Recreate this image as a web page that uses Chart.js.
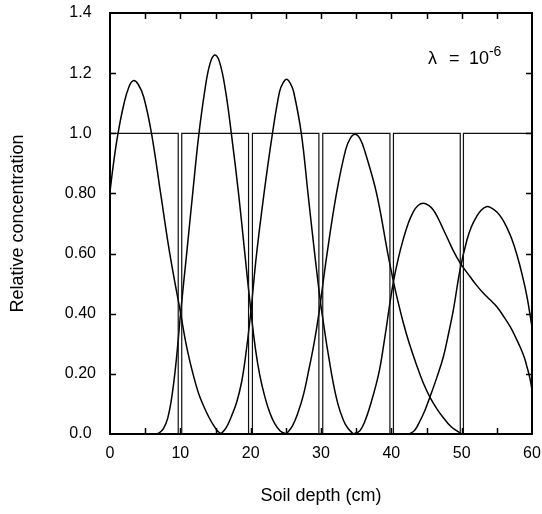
<!DOCTYPE html>
<html><head><meta charset="utf-8">
<script src="https://cdn.jsdelivr.net/npm/chart.js@4.4.0/dist/chart.umd.min.js"></script>
<style>html,body{margin:0;padding:0;background:#fff;}canvas{display:block;}</style>
</head><body>
<canvas id="c" width="542" height="514"></canvas>
<script>
// ---- data ----
const depth1 = [0, 0.5, 1.14, 2, 2.7, 3.3, 4, 4.8, 5.9, 7.2, 8.5, 10.05, 10.9, 11.8, 12.6, 13.4, 14.1, 14.8, 15.3, 15.8];
const conc1  = [0.806, 0.9, 1.0, 1.1, 1.155, 1.175, 1.163, 1.12, 1.0, 0.8, 0.6, 0.4, 0.29, 0.2, 0.135, 0.088, 0.054, 0.026, 0.01, 0];

const depth2 = [6.35, 7.0, 7.6, 8.2, 8.8, 9.4, 10.05, 10.9, 11.8, 12.6, 13.5, 14.2, 14.9, 15.6, 16.4, 17.25, 18.3, 19.15, 20.05, 20.7, 21.3, 22.0, 22.7, 23.4, 24.2, 25.07];
const conc2  = [0, 0.004, 0.018, 0.052, 0.125, 0.24, 0.405, 0.6, 0.81, 0.99, 1.145, 1.23, 1.26, 1.235, 1.145, 1.0, 0.795, 0.605, 0.405, 0.28, 0.195, 0.125, 0.072, 0.035, 0.01, 0];

const depth3 = [15.75, 16.5, 17.25, 18.0, 18.67, 19.2, 20.0, 20.8, 21.9, 23.1, 24.1, 24.6, 25.1, 25.6, 26.1, 27.2, 28.15, 29.1, 30.15, 31.5, 32.4, 33.2, 33.8, 34.6];
const conc3  = [0, 0.02, 0.058, 0.105, 0.168, 0.245, 0.4, 0.59, 0.8, 1.0, 1.138, 1.168, 1.18, 1.168, 1.139, 1.0, 0.8, 0.6, 0.4, 0.2, 0.1, 0.045, 0.02, 0];

const depth4 = [25.07, 25.9, 26.7, 27.5, 28.15, 29.0, 29.67, 30.8, 32.2, 33.5, 34.2, 34.88, 35.6, 36.3, 37.9, 39.5, 40.3, 41.0, 41.7, 42.5, 43.5, 44.5, 45.5, 46.5, 47.4, 48.5, 50.0];
const conc4  = [0, 0.025, 0.069, 0.13, 0.2, 0.3, 0.395, 0.59, 0.8, 0.945, 0.985, 0.997, 0.98, 0.935, 0.8, 0.6, 0.507, 0.435, 0.37, 0.305, 0.235, 0.172, 0.122, 0.083, 0.054, 0.024, 0];

const depth5 = [34.6, 35.5, 36.2, 37.0, 38.2, 39.0, 39.8, 40.3, 41.0, 41.7, 42.4, 43.1, 43.8, 44.55, 45.3, 45.97, 46.7, 47.4, 48.1, 48.8, 49.8, 50.5, 51.2, 52.1, 53.1, 54.0, 55.0, 56.0, 56.9, 57.6, 58.3, 58.9, 59.3, 59.7, 60.0];
const conc5  = [0, 0.01, 0.04, 0.095, 0.2, 0.31, 0.435, 0.507, 0.585, 0.648, 0.7, 0.738, 0.76, 0.767, 0.76, 0.745, 0.715, 0.68, 0.645, 0.61, 0.568, 0.545, 0.523, 0.495, 0.468, 0.447, 0.423, 0.39, 0.357, 0.325, 0.29, 0.255, 0.222, 0.186, 0.146];

const depth6 = [42.5, 43.3, 44.0, 44.8, 45.5, 46.5, 47.4, 48.1, 48.8, 49.8, 50.75, 51.4, 52.1, 52.8, 53.5, 54.2, 55.0, 55.7, 56.4, 57.1, 57.8, 58.6, 59.3, 60.0];
const conc6  = [0, 0.012, 0.04, 0.08, 0.124, 0.19, 0.257, 0.33, 0.41, 0.55, 0.645, 0.69, 0.722, 0.745, 0.756, 0.752, 0.738, 0.718, 0.688, 0.65, 0.6, 0.53, 0.455, 0.355];

// initial pulses (square waves)
const pulseStart = [0, 10.2, 20.25, 30.25, 40.3, 50.25];
const pulseEnd   = [9.7, 19.7, 29.7, 39.8, 49.8, 60];
const pulseLevel = 1.0;

// axes
const xTickValues = [0, 10, 20, 30, 40, 50, 60];
const xTickMarks  = [5, 10, 15, 20, 25, 30, 35, 40, 45, 50, 55];
const yTickValues = [0, 0.2, 0.4, 0.6, 0.8, 1.0, 1.2, 1.4];
const yTickLabels = ['0.0', '0.20', '0.40', '0.60', '0.80', '1.0', '1.2', '1.4'];
const yTickMarks  = [0.2, 0.4, 0.6, 0.8, 1.0, 1.2];
const xTitle = 'Soil depth (cm)';
const yTitle = 'Relative concentration';
const noteMain = '10';
const noteExp = '-6';
const notePos = {x: 45.2, y: 1.232};

// ---- build datasets ----
const curves = [[depth1, conc1], [depth2, conc2], [depth3, conc3], [depth4, conc4], [depth5, conc5], [depth6, conc6]];
const datasets = [];
pulseStart.forEach((s, i) => {
  datasets.push({
    data: [{x: s, y: 0}, {x: s, y: pulseLevel}, {x: pulseEnd[i], y: pulseLevel}, {x: pulseEnd[i], y: 0}],
    borderColor: '#111', borderWidth: 1.2, pointRadius: 0, tension: 0, fill: false
  });
});
curves.forEach(([xs, ys]) => {
  datasets.push({
    data: xs.map((v, i) => ({x: v, y: ys[i]})),
    borderColor: '#000', borderWidth: 1.5, pointRadius: 0, fill: false,
    tension: 0.4
  });
});

const FONT = '"Liberation Sans", Arial, sans-serif';

const framePlugin = {
  id: 'frame',
  beforeDraw(chart) {
    const ctx = chart.ctx;
    ctx.save(); ctx.fillStyle = '#fff'; ctx.fillRect(0, 0, chart.width, chart.height); ctx.restore();
  },
  afterDraw(chart) {
    const {ctx, chartArea: a, scales: {x, y}} = chart;
    ctx.save();
    ctx.strokeStyle = '#000';
    ctx.lineWidth = 2;
    ctx.strokeRect(a.left, a.top, a.right - a.left, a.bottom - a.top);
    ctx.lineWidth = 1.5;
    ctx.beginPath();
    xTickMarks.forEach(v => {
      const p = Math.round(x.getPixelForValue(v)) + 0.5;
      ctx.moveTo(p, a.bottom); ctx.lineTo(p, a.bottom - 6);
      ctx.moveTo(p, a.top); ctx.lineTo(p, a.top + 6);
    });
    yTickMarks.forEach(v => {
      const p = Math.round(y.getPixelForValue(v)) + 0.5;
      ctx.moveTo(a.left, p); ctx.lineTo(a.left + 6, p);
      ctx.moveTo(a.right, p); ctx.lineTo(a.right - 6, p);
    });
    ctx.stroke();
    // annotation
    const bx = x.getPixelForValue(notePos.x), by = y.getPixelForValue(notePos.y);
    ctx.fillStyle = '#000';
    ctx.textBaseline = 'alphabetic';
    ctx.textAlign = 'left';
    ctx.font = '18px ' + FONT;
    ctx.fillText('λ', bx, by);
    ctx.fillText('=', bx + 21, by);
    ctx.fillText(noteMain, bx + 41, by);
    ctx.font = '14px ' + FONT;
    ctx.fillText(noteExp, bx + 61, by - 8);
    ctx.restore();
  }
};

new Chart(document.getElementById('c'), {
  type: 'line',
  data: {datasets},
  plugins: [framePlugin],
  options: {
    responsive: false,
    animation: false,
    devicePixelRatio: 1,
    layout: {padding: {left: 0, top: 13, right: 10, bottom: 0}},
    plugins: {legend: {display: false}, tooltip: {enabled: false}},
    scales: {
      x: {
        type: 'linear', min: 0, max: 60,
        grid: {display: false, drawTicks: false},
        border: {display: false},
        afterBuildTicks: s => { s.ticks = xTickValues.map(v => ({value: v})); },
        afterFit: s => { s.height = 80; s.paddingLeft = 0; s.paddingRight = 0; },
        ticks: {color: '#000', font: {family: FONT, size: 16}, padding: 10, maxRotation: 0, autoSkip: false,
                callback: v => String(v)},
        title: {display: true, text: xTitle, color: '#000', font: {family: FONT, size: 18}, padding: {top: 0, bottom: 7}}
      },
      y: {
        type: 'linear', min: 0, max: 1.4,
        grid: {display: false, drawTicks: false},
        border: {display: false},
        afterBuildTicks: s => { s.ticks = yTickValues.map(v => ({value: v})); },
        afterFit: s => { s.width = 110; s.paddingTop = 0; s.paddingBottom = 0; },
        ticks: {color: '#000', font: {family: FONT, size: 16}, padding: 14, crossAlign: 'center', autoSkip: false,
                callback: (v, i) => yTickLabels[i]},
        title: {display: true, text: yTitle, color: '#000', font: {family: FONT, size: 18}, padding: {top: 7, bottom: 0}}
      }
    }
  }
});
</script>
</body></html>
